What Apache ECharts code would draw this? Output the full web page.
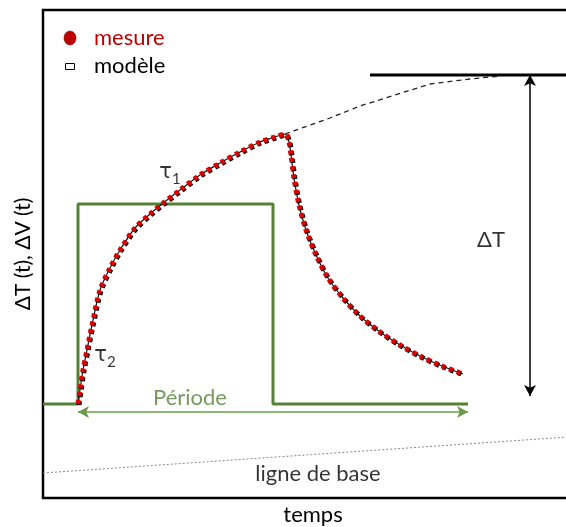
<!DOCTYPE html>
<html>
<head>
<meta charset="utf-8">
<script src="https://cdn.jsdelivr.net/npm/echarts@6/dist/echarts.min.js"></script>
<style>html,body{margin:0;padding:0;background:#fff}#c{width:566px;height:527px}</style>
</head>
<body>
<div id="c"></div>
<script>
// Schematic units: x = time, y = signal (arbitrary units)
const pulse = [[0,94],[35,94],[35,294],[230,294],[230,94],[425,94]];
const measureRise = [[35,94],[37,108],[40,128],[44,148],[49,173],[57,208],[67,230],[77,248],[92,270],[107,284],[119,294],[137,308],[157,323],[177,335],[197,346],[217,356],[232,361],[242,364]];
const measureDecay = [[242,364],[246,356],[248,343],[251,320],[256,293],[263,268],[273,243],[285,220],[300,200],[317,182],[337,166],[357,153],[379,141],[399,132],[420,124]];
const modelExtension = [[242,364],[287,380],[317,392],[387,414],[427,419],[457,422]];
const plateau = [[327,423],[540,423]];
const baseline = [[0,25],[540,62]];
const periodArrow = [[35,86],[425,86]];
const deltaTArrow = [[487,423],[487,102]];
const labels = [
  {name:'Période', pos:[147,100], color:'#548235'},
  {name:'{t|τ}{s|1}', pos:[127,325], color:'#000'},
  {name:'{t|τ}{s|2}', pos:[62,142], color:'#000'},
  {name:'ΔT', pos:[448,258], color:'#000'},
  {name:'ligne de base', pos:[275,24], color:'#000'}
];
const FONT = 'Lato';
const FS = 22;
const measure = measureRise.concat(measureDecay.slice(1));

const chart = echarts.init(document.getElementById('c'));
const hiddenAxis = {
  type:'value', axisLine:{show:false}, axisTick:{show:false}, axisLabel:{show:false}, splitLine:{show:false}
};
chart.setOption({
  animation:false,
  textStyle:{fontFamily:FONT},
  grid:{left:43, top:10, width:540, height:488, outerBoundsMode:'none', containLabel:false,
    show:true, borderColor:'#000', borderWidth:2.5, backgroundColor:'#fff'},
  xAxis:Object.assign({}, hiddenAxis, {min:0, max:540, name:'temps', nameLocation:'middle', nameGap:6,
    nameTextStyle:{fontFamily:FONT, fontSize:FS, color:'#000', verticalAlign:'top'}}),
  yAxis:Object.assign({}, hiddenAxis, {min:0, max:488, name:'ΔT (t), ΔV (t)', nameLocation:'middle', nameGap:9,
    nameTextStyle:{fontFamily:FONT, fontSize:21, color:'#000', verticalAlign:'bottom'}}),
  graphic:[
    {type:'ellipse', shape:{cx:70, cy:38, rx:6, ry:7}, style:{fill:'#c00000', stroke:'#600', lineWidth:0.5}},
    {type:'text', left:94, top:27, style:{text:'mesure', fill:'#c00000', font:FS+'px '+FONT}},
    {type:'rect', shape:{x:65.5, y:63.5, width:9, height:6}, style:{fill:'#fff', stroke:'#000', lineWidth:1}},
    {type:'text', left:94, top:55, style:{text:'modèle', fill:'#000', font:FS+'px '+FONT}}
  ],
  series:[
    {type:'line', data:baseline, symbol:'none', lineStyle:{color:'#888', width:1, type:[2,2]}},
    {type:'line', data:pulse, symbol:'none', lineStyle:{color:'#548235', width:3}},
    {type:'line', data:modelExtension, symbol:'none', lineStyle:{color:'#222', width:1.3, type:[5,4]}},
    {type:'line', data:measure, symbol:'none', smooth:0.3, lineStyle:{color:'#111', width:1.2}},
    {type:'line', data:measure, symbol:'none', smooth:0.3,
      lineStyle:{color:'#e00000', width:5, type:[4,4], shadowColor:'#000', shadowOffsetX:1, shadowOffsetY:1, shadowBlur:0}},
    {type:'line', data:plateau, symbol:'none', lineStyle:{color:'#000', width:3}},
    {type:'line', data:[], symbol:'none',
      markLine:{silent:true, symbol:['arrow','arrow'], symbolSize:[9,11], label:{show:false},
        data:[
          [{coord:periodArrow[0], lineStyle:{color:'#6a9a4a', width:1.5, type:'solid'}}, {coord:periodArrow[1]}],
          [{coord:deltaTArrow[0], lineStyle:{color:'#000', width:1.5, type:'solid'}}, {coord:deltaTArrow[1]}]
        ]}},
    {type:'scatter', symbolSize:0, silent:true,
      data:labels.map(l => ({value:l.pos, label:{show:true, position:'inside', formatter:l.name, color:l.color}})),
      label:{fontFamily:FONT, fontSize:FS,
        rich:{t:{fontFamily:'DejaVu Sans', fontSize:21, color:'#000'}, s:{fontFamily:FONT, fontSize:15, color:'#000', padding:[12,0,0,0]}}}}
  ]
});
</script>
</body>
</html>
